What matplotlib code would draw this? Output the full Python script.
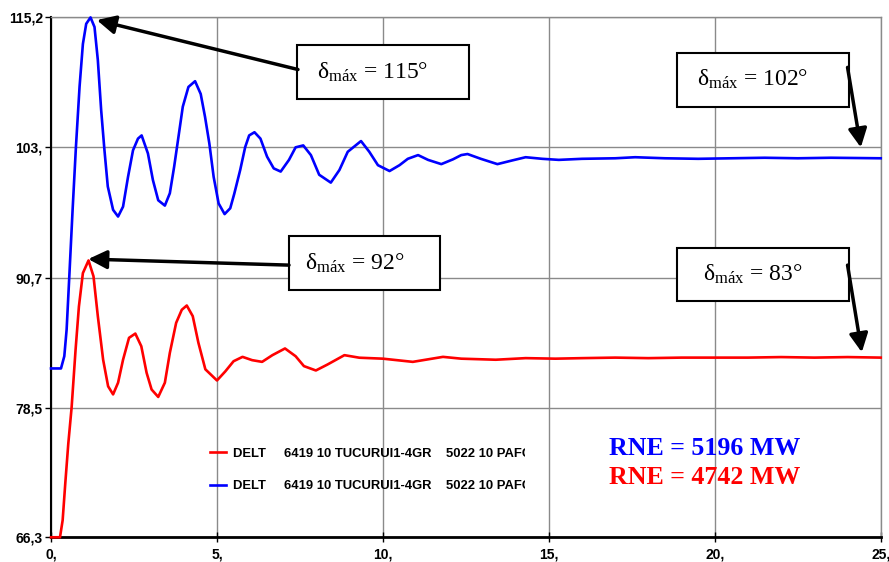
import matplotlib.pyplot as plt
from matplotlib.patches import Rectangle
from matplotlib.transforms import Bbox, TransformedBbox

plt.rcParams['mathtext.fontset'] = 'custom'
plt.rcParams['mathtext.rm'] = 'Liberation Serif'
plt.rcParams['mathtext.it'] = 'Liberation Serif:italic'

# blue curve: RNE = 5196 MW
t_blue = [0.0, 0.30, 0.40, 0.47, 0.55, 0.65, 0.75, 0.86, 0.96, 1.06, 1.19, 1.31, 1.41, 1.51,
          1.61, 1.71, 1.87, 2.02, 2.17, 2.32, 2.47, 2.62, 2.73, 2.92, 3.07, 3.23, 3.43, 3.58,
          3.71, 3.84, 3.97, 4.14, 4.34, 4.51, 4.64, 4.77, 4.90, 5.05, 5.23, 5.40, 5.52, 5.70,
          5.85, 5.97, 6.13, 6.31, 6.51, 6.71, 6.92, 7.17, 7.37, 7.60, 7.83, 8.08, 8.43, 8.69,
          8.94, 9.34, 9.59, 9.85, 10.20, 10.50, 10.75, 11.06, 11.36, 11.76, 12.11, 12.36, 12.55,
          12.95, 13.45, 13.9, 14.3, 14.8, 15.3, 16.0, 17.0, 17.6, 18.5, 19.5, 20.5, 21.5, 22.5,
          23.5, 25.0]
v_blue = [82.18, 82.18, 83.33, 85.84, 90.8, 97.1, 103.0, 108.7, 112.7, 114.6, 115.2, 114.3, 111.2, 106.5,
          102.7, 99.3, 97.1, 96.47, 97.4, 100.2, 102.7, 103.8, 104.1, 102.4, 99.9, 98.0, 97.5, 98.66,
          101.16, 103.97, 106.8, 108.66, 109.2, 108.0, 105.85, 103.35, 100.2, 97.7, 96.7, 97.25, 98.6, 100.85,
          103.0, 104.1, 104.4, 103.8, 102.1, 101.0, 100.7, 101.8, 102.98, 103.16, 102.25, 100.4, 99.66, 100.85,
          102.56, 103.57, 102.56, 101.3, 100.75, 101.3, 101.9, 102.25, 101.8, 101.4, 101.85, 102.25, 102.35,
          101.9, 101.4, 101.75, 102.05, 101.9, 101.8, 101.9, 101.95, 102.05, 101.95, 101.9, 101.95, 102.0, 101.95,
          102.0, 101.95]

# red curve: RNE = 4742 MW
t_red = [0.0, 0.27, 0.35, 0.43, 0.52, 0.62, 0.74, 0.84, 0.96, 1.13, 1.28, 1.41, 1.57, 1.72, 1.87,
         2.02, 2.17, 2.35, 2.54, 2.72, 2.88, 3.03, 3.23, 3.43, 3.58, 3.77, 3.94, 4.09, 4.27, 4.44,
         4.65, 5.0, 5.25, 5.50, 5.77, 6.06, 6.36, 6.67, 7.05, 7.37, 7.62, 7.98, 8.33, 8.84, 9.29,
         10.0, 10.9, 11.81, 12.36, 13.4, 14.3, 15.2, 16.0, 17.0, 18.0, 19.0, 20.0, 21.0, 22.0,
         23.0, 24.0, 25.0]
v_red = [66.3, 66.3, 67.9, 71.4, 75.1, 78.5, 83.96, 88.0, 91.15, 92.34, 90.84, 87.1, 83.0, 80.5, 79.74,
         80.84, 83.0, 85.06, 85.46, 84.27, 81.77, 80.2, 79.5, 80.84, 83.65, 86.47, 87.7, 88.1, 87.1, 84.6,
         82.1, 81.05, 81.9, 82.86, 83.27, 82.96, 82.8, 83.43, 84.06, 83.33, 82.4, 81.99, 82.55, 83.43, 83.19,
         83.1, 82.8, 83.27, 83.1, 83.0, 83.15, 83.1, 83.15, 83.2, 83.15, 83.2, 83.2, 83.2, 83.25,
         83.2, 83.25, 83.2]

legend_label = 'DELT     6419 10 TUCURUI1-4GR    5022 10 PAFC'

x_ticks = [0, 5, 10, 15, 20, 25]
x_labels = ['0,', '5,', '10,', '15,', '20,', '25,']
y_ticks = [66.3, 78.5, 90.7, 103.0, 115.2]
y_labels = ['66,3', '78,5', '90,7', '103,', '115,2']

# annotation: label, box (x0, x1, y0, y1), arrow tail, arrow tip
notes = [
    ('115', (7.41, 12.59, 107.5, 112.6), (7.44, 110.3), (1.38, 114.95)),
    ('92', (7.17, 11.72, 89.6, 94.6), (7.17, 91.9), (1.12, 92.47)),
    ('102', (18.86, 24.04, 106.8, 111.9), (24.0, 110.5), (24.4, 102.97)),
    ('83', (18.86, 24.04, 88.5, 93.5), (24.0, 91.9), (24.43, 83.7)),
]

fig = plt.figure(figsize=(8.89, 5.62), dpi=100)
ax = fig.add_axes([0.0574, 0.044, 0.9333, 0.925])

ax.plot(t_red, v_red, color='red', lw=1.9, label=legend_label, zorder=4, clip_on=False,
        solid_joinstyle='round')
ax.plot(t_blue, v_blue, color='blue', lw=1.9, label=legend_label, zorder=4, clip_on=False,
        solid_joinstyle='round')

ax.set_xlim(0, 25)
ax.set_ylim(66.3, 115.2)
ax.set_xticks(x_ticks)
ax.set_xticklabels(x_labels, fontfamily='Liberation Sans', fontweight='bold', fontsize=10)
ax.set_yticks(y_ticks)
ax.set_yticklabels(y_labels, fontfamily='Liberation Sans', fontweight='bold', fontsize=10)
ax.tick_params(axis='y', direction='out', length=4, width=1, pad=2)
ax.tick_params(axis='x', direction='inout', length=7, width=1, pad=4)
ax.grid(True, color='#8a8a8a', lw=1)
ax.set_axisbelow(True)
for side in ['top', 'right']:
    ax.spines[side].set_color('#8a8a8a')
    ax.spines[side].set_linewidth(1)
ax.spines['left'].set_linewidth(1.5)
ax.spines['bottom'].set_linewidth(2)

for val, (x0, x1, y0, y1), tail, tip in notes:
    ax.add_patch(Rectangle((x0, y0), x1 - x0, y1 - y0, fill=True, facecolor='white',
                           edgecolor='black', lw=1.5, zorder=5))
    ax.text((x0 + x1) / 2 - 0.3, (y0 + y1) / 2, 'δ$_{\\mathrm{máx}}$ = ' + val + '°',
            fontfamily='Liberation Serif', fontsize=17, ha='center', va='center', zorder=6)
    ax.annotate('', xy=tip, xytext=tail, zorder=6,
                arrowprops=dict(arrowstyle='-|>', color='black', lw=2.5, mutation_scale=28,
                                shrinkA=0, shrinkB=0))

leg = ax.legend(loc='upper left', bbox_to_anchor=(0.178, 0.195), frameon=False,
                prop={'family': 'Liberation Sans', 'weight': 'bold', 'size': 9.4},
                handlelength=1.2, handletextpad=0.55, labelspacing=1.55)
clip = TransformedBbox(Bbox([[0, 66.3], [14.28, 115.2]]), ax.transData)
for txt in leg.get_texts():
    txt.set_clip_on(True)
    txt.set_clip_box(clip)

ax.text(16.8, 74.0, 'RNE = 5196 MW', color='blue', fontfamily='Liberation Serif',
        fontweight='bold', fontsize=18.6, ha='left', va='baseline')
ax.text(16.8, 71.3, 'RNE = 4742 MW', color='red', fontfamily='Liberation Serif',
        fontweight='bold', fontsize=18.6, ha='left', va='baseline')

fig.savefig('out.png', dpi=100)
